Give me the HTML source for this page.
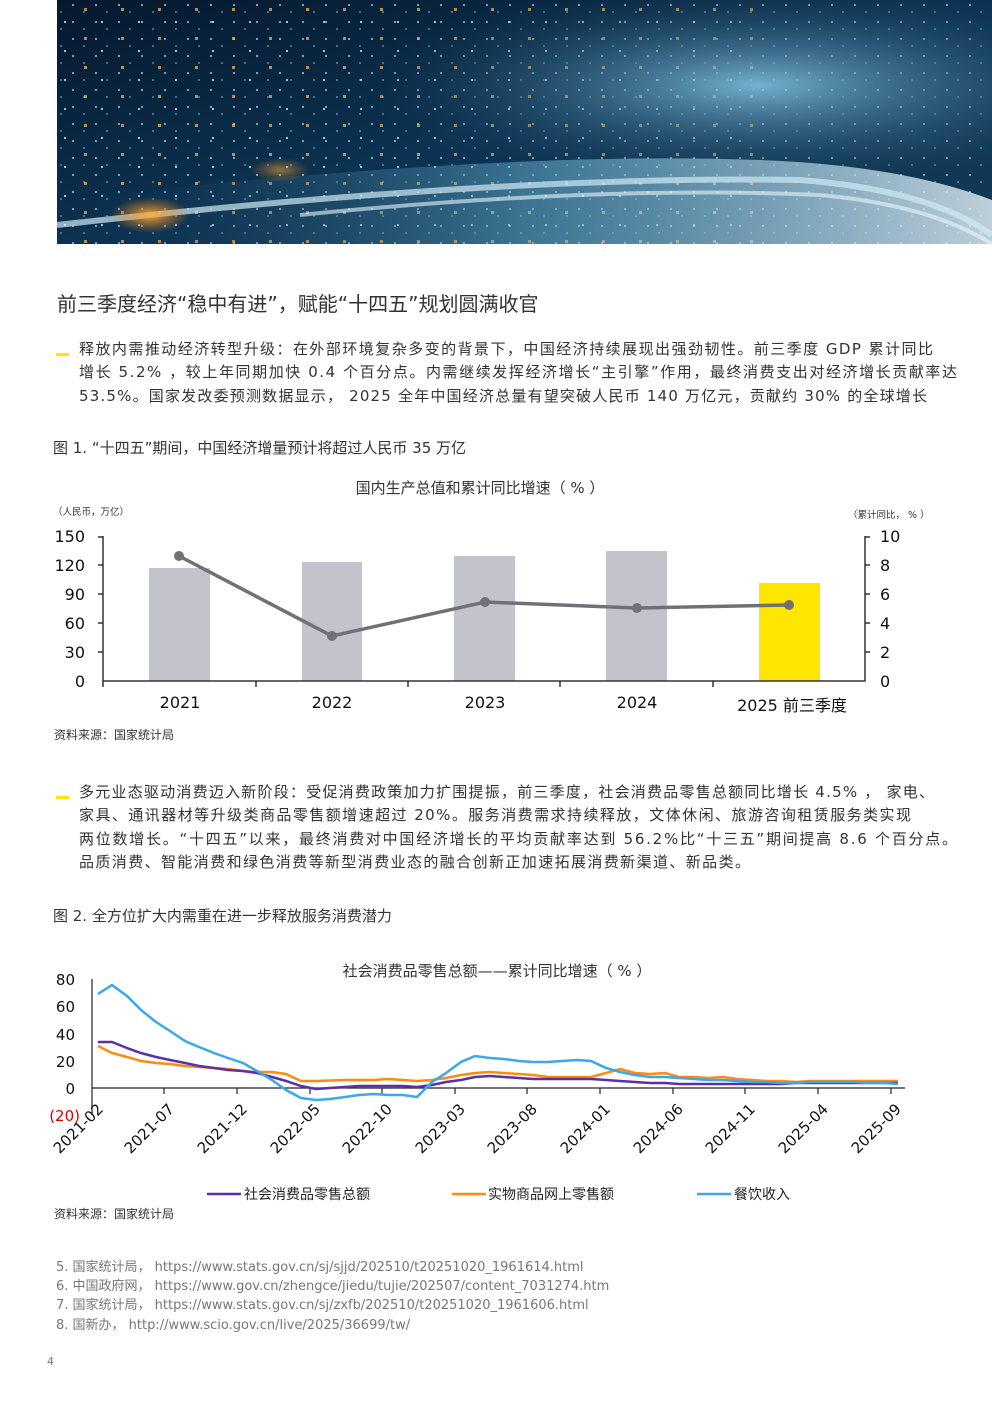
<!DOCTYPE html>
<html><head><meta charset="utf-8"><style>
html,body{margin:0;padding:0;background:#fff;}
svg{display:block;}
text{font-family:"DejaVu Sans","Noto Sans CJK SC",sans-serif;}
</style></head><body>
<svg width="992" height="1403" viewBox="0 0 992 1403" xmlns="http://www.w3.org/2000/svg">
<defs>
<linearGradient id="bg" x1="0" y1="0" x2="1" y2="1">
<stop offset="0" stop-color="#06182e"/><stop offset="0.5" stop-color="#0b3250"/><stop offset="1" stop-color="#123a55"/>
</linearGradient>
<linearGradient id="road" x1="0" y1="0" x2="1" y2="0">
<stop offset="0" stop-color="#0a2a48" stop-opacity="0"/><stop offset="0.5" stop-color="#6fb8d8" stop-opacity="0.6"/><stop offset="1" stop-color="#e8f4fa"/>
</linearGradient>
<radialGradient id="glow" cx="0.75" cy="0.35" r="0.45">
<stop offset="0" stop-color="#8fd0ee" stop-opacity="0.8"/><stop offset="1" stop-color="#0b3250" stop-opacity="0"/>
</radialGradient>
<radialGradient id="orng" cx="0.5" cy="0.5" r="0.5">
<stop offset="0" stop-color="#ffb040" stop-opacity="0.9"/><stop offset="1" stop-color="#ff8000" stop-opacity="0"/>
</radialGradient>
<pattern id="dots" width="23" height="17" patternUnits="userSpaceOnUse">
<rect x="3" y="4" width="2" height="2" fill="#9fdcff" opacity="0.7"/>
<rect x="14" y="11" width="2" height="2" fill="#6fc0f0" opacity="0.5"/>
</pattern>
<pattern id="dots2" width="37" height="29" patternUnits="userSpaceOnUse">
<rect x="10" y="8" width="3" height="3" fill="#ffc060" opacity="0.7"/>
<rect x="27" y="21" width="2" height="2" fill="#c0f0ff" opacity="0.8"/>
</pattern>
</defs>
<rect x="57" y="0" width="935" height="244" fill="url(#bg)"/>
<rect x="57" y="0" width="935" height="244" fill="url(#dots)"/>
<rect x="57" y="0" width="700" height="244" fill="url(#dots2)"/>
<rect x="57" y="0" width="935" height="244" fill="url(#glow)"/>
<path d="M57 200 Q500 150 760 160 Q900 165 992 200 L992 244 L57 244 Z" fill="url(#road)" opacity="0.8"/>
<path d="M57 225 Q500 175 800 180 Q930 190 992 235" stroke="#cfe9f5" stroke-width="6" fill="none" opacity="0.7"/>
<path d="M300 215 Q600 185 820 195 Q930 205 992 244" stroke="#e8f6fb" stroke-width="4" fill="none" opacity="0.6"/>
<ellipse cx="150" cy="215" rx="40" ry="18" fill="url(#orng)"/>
<ellipse cx="280" cy="170" rx="30" ry="12" fill="url(#orng)" opacity="0.6"/>

<text x="57" y="311" font-size="20" fill="#333">前三季度经济“稳中有进”，赋能“十四五”规划圆满收官</text>
<rect x="56" y="353" width="13" height="3" fill="#ffe600"/>
<g font-size="15" fill="#333">
<text x="79" y="354" textLength="854" lengthAdjust="spacing">释放内需推动经济转型升级：在外部环境复杂多变的背景下，中国经济持续展现出强劲韧性。前三季度 GDP 累计同比</text>
<text x="79" y="377" textLength="878" lengthAdjust="spacing">增长 5.2% ，较上年同期加快 0.4 个百分点。内需继续发挥经济增长“主引擎”作用，最终消费支出对经济增长贡献率达</text>
<text x="79" y="401" textLength="848" lengthAdjust="spacing">53.5%。国家发改委预测数据显示， 2025 全年中国经济总量有望突破人民币 140 万亿元，贡献约 30% 的全球增长</text>
</g>
<text x="53" y="453" font-size="15" fill="#333">图 1. “十四五”期间，中国经济增量预计将超过人民币 35 万亿</text>

<text x="480" y="493" font-size="15" fill="#333" text-anchor="middle">国内生产总值和累计同比增速（ % ）</text>
<text x="53" y="515" font-size="9.5" fill="#333">（人民币，万亿）</text>
<text x="848" y="518" font-size="9.5" fill="#333">（累计同比， % ）</text>
<g font-size="16" fill="#111" text-anchor="end">
<text x="85" y="542">150</text><text x="85" y="571">120</text><text x="85" y="600">90</text><text x="85" y="629">60</text><text x="85" y="658">30</text><text x="85" y="687">0</text>
</g>
<g font-size="16" fill="#111">
<text x="880" y="542">10</text><text x="880" y="571">8</text><text x="880" y="600">6</text><text x="880" y="629">4</text><text x="880" y="658">2</text><text x="880" y="687">0</text>
</g>
<rect x="149" y="568" width="61" height="113" fill="#c3c3cc"/>
<rect x="302" y="562" width="60" height="119" fill="#c3c3cc"/>
<rect x="454" y="556" width="61" height="125" fill="#c3c3cc"/>
<rect x="606" y="551" width="61" height="130" fill="#c3c3cc"/>
<rect x="759" y="583" width="61" height="98" fill="#ffe600"/>
<g stroke="#333" stroke-width="1.5" fill="none">
<path d="M103 536 V681 H865 V536"/>
<path d="M98 537H103M98 565H103M98 594H103M98 623H103M98 652H103"/>
<path d="M865 537H870M865 565H870M865 594H870M865 623H870M865 652H870"/>
<path d="M103 681V687M256 681V687M408 681V687M560 681V687M713 681V687"/>
</g>
<polyline points="179,556 332,636 485,602 637,608 789,605" fill="none" stroke="#707078" stroke-width="3.5"/>
<g fill="#707078"><circle cx="179" cy="556" r="5"/><circle cx="332" cy="636" r="5"/><circle cx="485" cy="602" r="5"/><circle cx="637" cy="608" r="5"/><circle cx="789" cy="605" r="5"/></g>
<g font-size="16" fill="#111" text-anchor="middle">
<text x="180" y="708">2021</text><text x="332" y="708">2022</text><text x="485" y="708">2023</text><text x="637" y="708">2024</text><text x="792" y="711">2025 前三季度</text>
</g>
<text x="54" y="739" font-size="12" fill="#333">资料来源：国家统计局</text>

<rect x="56" y="796" width="13" height="3" fill="#ffe600"/>
<g font-size="15" fill="#333">
<text x="79" y="797" textLength="855" lengthAdjust="spacing">多元业态驱动消费迈入新阶段：受促消费政策加力扩围提振，前三季度，社会消费品零售总额同比增长 4.5% ， 家电、</text>
<text x="79" y="820" textLength="832" lengthAdjust="spacing">家具、通讯器材等升级类商品零售额增速超过 20%。服务消费需求持续释放，文体休闲、旅游咨询租赁服务类实现</text>
<text x="79" y="844" textLength="878" lengthAdjust="spacing">两位数增长。“十四五”以来，最终消费对中国经济增长的平均贡献率达到 56.2%比“十三五”期间提高 8.6 个百分点。</text>
<text x="79" y="867" textLength="671" lengthAdjust="spacing">品质消费、智能消费和绿色消费等新型消费业态的融合创新正加速拓展消费新渠道、新品类。</text>
</g>
<text x="53" y="921" font-size="15" fill="#333">图 2.  全方位扩大内需重在进一步释放服务消费潜力</text>

<text x="497" y="976" font-size="15" fill="#333" text-anchor="middle">社会消费品零售总额——累计同比增速（ % ）</text>
<g font-size="15" fill="#111" text-anchor="end">
<text x="75" y="985">80</text><text x="75" y="1012">60</text><text x="75" y="1040">40</text><text x="75" y="1067">20</text><text x="75" y="1094">0</text>
<text x="80" y="1121" fill="#e00000">(20)</text>
</g>
<g stroke="#222" stroke-width="1.2" fill="none">
<path d="M92 979 V1115"/>
<path d="M92 1088 H905"/>
<path d="M164 1088V1094M237 1088V1094M310 1088V1094M382 1088V1094M455 1088V1094M527 1088V1094M600 1088V1094M673 1088V1094M745 1088V1094M818 1088V1094M891 1088V1094"/>
</g>
<polyline fill="none" stroke="#ff8a10" stroke-width="2.5" points="98,1046 112,1053 127,1057 141,1061 156,1063 170,1064 185,1066 199,1067 214,1068 228,1069 243,1071 257,1072 272,1072 286,1074 301,1081 316,1081 345,1080 374,1080 388,1079 403,1080 417,1081 432,1080 446,1078 461,1075 475,1073 490,1072 504,1073 519,1074 533,1075 548,1077 562,1077 577,1077 591,1077 606,1073 620,1069 635,1073 650,1074 665,1073 679,1077 694,1077 708,1078 723,1077 737,1079 752,1080 767,1081 781,1081 796,1082 810,1081 825,1081 839,1081 854,1081 868,1081 883,1081 898,1081"/>
<polyline fill="none" stroke="#5a2fa8" stroke-width="2.5" points="98,1042 112,1042 127,1048 141,1053 156,1057 170,1060 185,1063 199,1066 214,1068 228,1070 243,1071 257,1073 272,1077 286,1081 301,1086 316,1089 330,1088 345,1087 359,1086 374,1086 388,1086 403,1086 417,1087 432,1085 446,1082 461,1080 475,1077 490,1076 504,1077 519,1078 533,1079 548,1079 562,1079 577,1079 591,1079 606,1080 620,1081 635,1082 650,1083 665,1083 679,1084 694,1084 708,1084 723,1084 737,1084 752,1084 767,1084 781,1084 796,1083 810,1083 825,1083 839,1083 854,1083 868,1083 883,1083 898,1083"/>
<polyline fill="none" stroke="#3aa8ea" stroke-width="2.5" points="98,994 112,985 127,996 141,1010 156,1022 170,1031 185,1041 199,1047 214,1053 228,1058 243,1063 257,1071 272,1080 286,1090 301,1098 316,1100 330,1099 345,1097 359,1095 374,1094 388,1095 403,1095 417,1097 432,1082 446,1073 461,1062 475,1056 490,1058 504,1059 519,1061 533,1062 548,1062 562,1061 577,1060 591,1061 606,1068 620,1072 635,1075 650,1077 665,1077 679,1078 694,1079 708,1080 723,1080 737,1081 752,1082 767,1082 781,1083 796,1083 810,1082 825,1082 839,1082 854,1082 868,1083 883,1083 898,1084"/>
<g font-size="15" fill="#111" text-anchor="end">
<text transform="translate(104,1110) rotate(-45)">2021-02</text>
<text transform="translate(175,1110) rotate(-45)">2021-07</text>
<text transform="translate(248,1110) rotate(-45)">2021-12</text>
<text transform="translate(321,1110) rotate(-45)">2022-05</text>
<text transform="translate(393,1110) rotate(-45)">2022-10</text>
<text transform="translate(466,1110) rotate(-45)">2023-03</text>
<text transform="translate(538,1110) rotate(-45)">2023-08</text>
<text transform="translate(611,1110) rotate(-45)">2024-01</text>
<text transform="translate(684,1110) rotate(-45)">2024-06</text>
<text transform="translate(756,1110) rotate(-45)">2024-11</text>
<text transform="translate(829,1110) rotate(-45)">2025-04</text>
<text transform="translate(902,1110) rotate(-45)">2025-09</text>
</g>
<g font-size="14" fill="#222">
<line x1="207" y1="1194" x2="241" y2="1194" stroke="#5a2fa8" stroke-width="2.5"/><text x="244" y="1199">社会消费品零售总额</text>
<line x1="452" y1="1194" x2="486" y2="1194" stroke="#ff8a10" stroke-width="2.5"/><text x="488" y="1199">实物商品网上零售额</text>
<line x1="697" y1="1194" x2="731" y2="1194" stroke="#3aa8ea" stroke-width="2.5"/><text x="734" y="1199">餐饮收入</text>
</g>
<text x="54" y="1218" font-size="12" fill="#333">资料来源：国家统计局</text>

<g font-size="13" fill="#777">
<text x="56" y="1271">5.  国家统计局，  https://www.stats.gov.cn/sj/sjjd/202510/t20251020_1961614.html</text>
<text x="56" y="1290">6.  中国政府网，  https://www.gov.cn/zhengce/jiedu/tujie/202507/content_7031274.htm</text>
<text x="56" y="1309">7.  国家统计局，  https://www.stats.gov.cn/sj/zxfb/202510/t20251020_1961606.html</text>
<text x="56" y="1329">8.  国新办，  http://www.scio.gov.cn/live/2025/36699/tw/</text>
</g>
<text x="47" y="1365" font-size="11" fill="#777">4</text>
</svg>
</body></html>
